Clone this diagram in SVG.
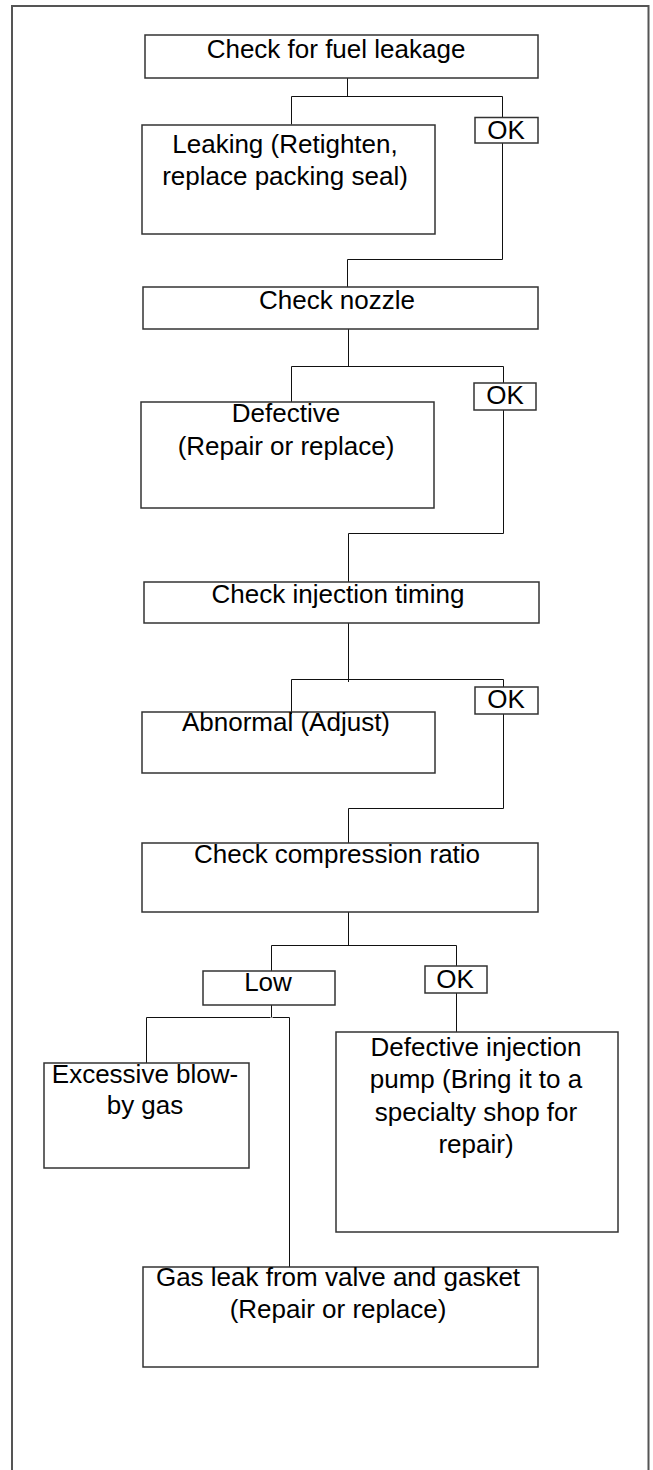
<svg xmlns="http://www.w3.org/2000/svg" width="653" height="1470" viewBox="0 0 653 1470">
  <style>
    .frame { fill: none; stroke: #555; stroke-width: 2; }
    .box { fill: none; stroke: #333; stroke-width: 1.5; }
    .wire { fill: none; stroke: #111; stroke-width: 1; }
    text { font-family: "Liberation Sans", Arial, sans-serif; font-size: 26px; fill: #000; text-anchor: middle; }
  </style>
  <rect width="653" height="1470" fill="#fff"/>
  <!-- page frame, open at the bottom -->
  <path class="frame" d="M12,1472 V6 H648.5 V1472"/>

  <!-- connectors -->
  <g id="connectors" class="wire">
    <path d="M347.5,78 V96.5"/>
    <path d="M291.5,124.5 V96.5 H502.5 V117.5"/>
    <path d="M502.5,143 V259.5 H347.5 V287"/>

    <path d="M348.5,329 V366.5"/>
    <path d="M291.5,402 V366.5 H503.5 V383"/>
    <path d="M503.5,410 V533.5 H348.5 V582"/>

    <path d="M348.5,623 V682"/>
    <path d="M291.5,714 V679.5 H503.5 V687"/>
    <path d="M503.5,714 V808.5 H348.5 V843"/>

    <path d="M348.5,912 V945.5"/>
    <path d="M271.5,971 V945.5 H456.5 V966"/>
    <path d="M456.5,993 V1032"/>
    <path d="M271.5,1005 V1017.5"/>
    <path d="M146.5,1063 V1017.5 H270.5"/>
    <path d="M272.5,1017.5 H289.5 V1267"/>
  </g>

  <g id="fuel-leak-check">
    <rect class="box" x="145" y="35" width="393" height="43"/>
    <text x="336" y="58">Check for fuel leakage</text>
  </g>
  <g id="leaking">
    <rect class="box" x="142" y="125" width="293" height="109"/>
    <text x="285" y="153">Leaking (Retighten,</text>
    <text x="285" y="185">replace packing seal)</text>
  </g>
  <g id="ok-1">
    <rect class="box" x="475" y="117.5" width="63" height="25.5"/>
    <text x="506" y="139">OK</text>
  </g>

  <g id="nozzle-check">
    <rect class="box" x="143" y="287" width="395" height="42"/>
    <text x="337" y="309">Check nozzle</text>
  </g>
  <g id="nozzle-defective">
    <rect class="box" x="141" y="402" width="293" height="106"/>
    <text x="286" y="422">Defective</text>
    <text x="286" y="455">(Repair or replace)</text>
  </g>
  <g id="ok-2">
    <rect class="box" x="474" y="383" width="62" height="27"/>
    <text x="505" y="404">OK</text>
  </g>

  <g id="timing-check">
    <rect class="box" x="144" y="582" width="395" height="41"/>
    <text x="338" y="603">Check injection timing</text>
  </g>
  <g id="timing-abnormal">
    <rect class="box" x="142" y="712" width="293" height="61"/>
    <text x="286" y="731">Abnormal (Adjust)</text>
  </g>
  <g id="ok-3">
    <rect class="box" x="475" y="687" width="63" height="27"/>
    <text x="506" y="708">OK</text>
  </g>

  <g id="compression-check">
    <rect class="box" x="142" y="843" width="396" height="69"/>
    <text x="337" y="863">Check compression ratio</text>
  </g>
  <g id="low">
    <rect class="box" x="203" y="971" width="132" height="34"/>
    <text x="268" y="991">Low</text>
  </g>
  <g id="ok-4">
    <rect class="box" x="425" y="966" width="62" height="27"/>
    <text x="455" y="988">OK</text>
  </g>
  <g id="blow-by">
    <rect class="box" x="44" y="1063" width="205" height="105"/>
    <text x="145" y="1083">Excessive blow-</text>
    <text x="145" y="1114">by gas</text>
  </g>
  <g id="injection-pump">
    <rect class="box" x="336" y="1032" width="282" height="200"/>
    <text x="476" y="1056">Defective injection</text>
    <text x="476" y="1088">pump (Bring it to a</text>
    <text x="476" y="1121">specialty shop for</text>
    <text x="476" y="1153">repair)</text>
  </g>
  <g id="valve-gasket-leak">
    <rect class="box" x="143" y="1267" width="395" height="100"/>
    <text x="338" y="1286">Gas leak from valve and gasket</text>
    <text x="338" y="1318">(Repair or replace)</text>
  </g>
</svg>
